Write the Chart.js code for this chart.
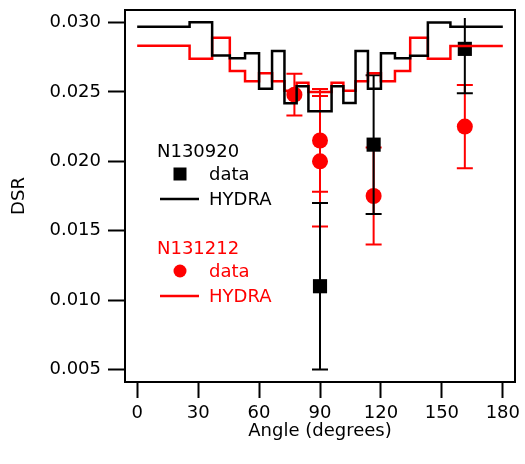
<!DOCTYPE html>
<html><head><meta charset="utf-8">
<script src="https://cdn.jsdelivr.net/npm/chart.js@4.4.1/dist/chart.umd.min.js"></script>
<style>html,body{margin:0;padding:0;background:#fff;}</style>
</head><body>
<canvas id="c" width="525" height="464"></canvas>
<script>
// ---- data ----
const binEdges = [0, 25.8, 36.9, 45.6, 53.1, 60, 66.4, 72.5, 78.5, 84.3, 90, 95.7, 101.5, 107.5, 113.6, 120, 126.9, 134.4, 143.1, 154.2, 180];
const hydraN130920 = [0.02969, 0.03001, 0.02762, 0.02742, 0.02778, 0.02522, 0.02795, 0.02418, 0.02540, 0.02361, 0.02361, 0.02540, 0.02420, 0.02795, 0.02523, 0.02778, 0.02742, 0.02760, 0.03000, 0.02969];
const hydraN131212 = [0.02833, 0.02738, 0.02890, 0.02650, 0.02576, 0.02635, 0.02576, 0.02509, 0.02566, 0.02500, 0.02500, 0.02566, 0.02509, 0.02576, 0.02635, 0.02576, 0.02650, 0.02890, 0.02738, 0.02831];
const dataN130920Angle = [90, 116.4, 161.3];
const dataN130920Value = [0.0110, 0.0212, 0.0281];
const dataN130920Err = [0.0060, 0.0050, 0.0032];
const dataN131212Angle = [77.4, 90, 90, 116.4, 161.3];
const dataN131212Value = [0.0248, 0.0215, 0.0200, 0.0175, 0.0225];
const dataN131212Err = [0.0015, 0.0037, 0.0047, 0.0035, 0.0030];
const xTicks = [0, 30, 60, 90, 120, 150, 180];
const yTicks = [0.005, 0.010, 0.015, 0.020, 0.025, 0.030];

const FONT = 'DejaVu Sans';
const stepPoints = (vals) => binEdges.map((x, i) => ({x, y: vals[Math.min(i, vals.length - 1)]}));
const scatterPoints = (xs, ys) => xs.map((x, i) => ({x, y: ys[i]}));

const errorBarPlugin = {
  id: 'errbars',
  beforeDatasetDraw(chart, args) {
    const ds = chart.data.datasets[args.index];
    if (!ds.errors) return;
    const {ctx, chartArea, scales: {x, y}} = chart;
    ctx.save();
    ctx.beginPath();
    ctx.rect(chartArea.left, chartArea.top + 8, chartArea.right - chartArea.left, chartArea.bottom - chartArea.top - 8);
    ctx.clip();
    ctx.strokeStyle = ds.borderColor;
    ctx.lineWidth = 2;
    ds.data.forEach((p, i) => {
      const e = ds.errors[i];
      const px = x.getPixelForValue(p.x);
      const yt = y.getPixelForValue(p.y + e), yb = y.getPixelForValue(p.y - e);
      ctx.beginPath();
      ctx.moveTo(px, yt); ctx.lineTo(px, yb);
      ctx.moveTo(px - 8, yt); ctx.lineTo(px + 8, yt);
      ctx.moveTo(px - 8, yb); ctx.lineTo(px + 8, yb);
      ctx.stroke();
    });
    ctx.restore();
  }
};

const framePlugin = {
  id: 'frame',
  afterDraw(chart) {
    const {ctx, chartArea: a} = chart;
    ctx.save();
    ctx.strokeStyle = '#000';
    ctx.lineWidth = 2;
    ctx.strokeRect(a.left, a.top, a.right - a.left, a.bottom - a.top);
    ctx.restore();
  }
};

const legendPlugin = {
  id: 'groupLegend',
  afterDraw(chart) {
    const {ctx, chartArea: a} = chart;
    const L = a.left, T = a.top;
    ctx.save();
    ctx.font = '18px "' + FONT + '"';
    ctx.textBaseline = 'alphabetic';
    ctx.textAlign = 'left';
    const groups = [
      {name: 'N130920', color: '#000', marker: 'rect', top: 0},
      {name: 'N131212', color: '#ff0000', marker: 'circle', top: 97}
    ];
    groups.forEach(g => {
      ctx.fillStyle = g.color; ctx.strokeStyle = g.color;
      ctx.fillText(g.name, L + 32, T + 147 + g.top);
      const mx = L + 55, my = T + 164 + g.top;
      ctx.beginPath();
      if (g.marker === 'rect') ctx.rect(mx - 6.5, my - 6.5, 13, 13);
      else ctx.arc(mx, my, 6.5, 0, Math.PI * 2);
      ctx.fill();
      ctx.fillText('data', L + 84, T + 170 + g.top);
      ctx.lineWidth = 2.5;
      ctx.beginPath();
      ctx.moveTo(L + 35, T + 189 + g.top); ctx.lineTo(L + 74, T + 189 + g.top);
      ctx.stroke();
      ctx.fillText('HYDRA', L + 84, T + 195 + g.top);
    });
    ctx.restore();
  }
};

new Chart(document.getElementById('c'), {
  type: 'line',
  data: {
    datasets: [
      {label: 'N130920 HYDRA', data: stepPoints(hydraN130920), stepped: 'before', borderColor: '#000', borderWidth: 2.5, pointRadius: 0, fill: false},
      {label: 'N131212 HYDRA', data: stepPoints(hydraN131212), stepped: 'before', borderColor: '#ff0000', borderWidth: 2.5, pointRadius: 0, fill: false},
      {label: 'N130920 data', data: scatterPoints(dataN130920Angle, dataN130920Value), errors: dataN130920Err, showLine: false, pointStyle: 'rect', pointRadius: 10, pointBorderWidth: 0, backgroundColor: '#000', borderColor: '#000'},
      {label: 'N131212 data', data: scatterPoints(dataN131212Angle, dataN131212Value), errors: dataN131212Err, showLine: false, pointStyle: 'circle', pointRadius: 8, pointBorderWidth: 0, backgroundColor: '#ff0000', borderColor: '#ff0000'}
    ]
  },
  options: {
    responsive: false,
    animation: false,
    devicePixelRatio: 1,
    layout: {padding: {left: 0, right: 6, top: 8, bottom: 0}},
    plugins: {legend: {display: false}, tooltip: {enabled: false}},
    scales: {
      x: {
        type: 'linear', min: -6, max: 186,
        afterBuildTicks: s => { s.ticks = xTicks.map(v => ({value: v})); },
        afterFit: s => { s.height = 82; s.paddingLeft = 0; s.paddingRight = 0; },
        grid: {drawOnChartArea: false, drawTicks: true, tickLength: 16, tickWidth: 2, tickColor: '#000'},
        border: {display: true, color: '#000', width: 2},
        ticks: {color: '#000', font: {family: FONT, size: 18}, padding: 5, maxRotation: 0, autoSkip: false},
        title: {display: true, text: 'Angle (degrees)', color: '#000', font: {family: FONT, size: 18}, padding: {top: 0, bottom: 22}}
      },
      y: {
        type: 'linear', min: 0.0041, max: 0.0309,
        afterBuildTicks: s => { s.ticks = yTicks.map(v => ({value: v})); },
        afterFit: s => { s.width = 125; s.paddingTop = 0; s.paddingBottom = 0; },
        grid: {drawOnChartArea: false, drawTicks: true, tickLength: 17, tickWidth: 2, tickColor: '#000'},
        border: {display: true, color: '#000', width: 2},
        ticks: {color: '#000', font: {family: FONT, size: 18}, padding: 7, callback: v => v.toFixed(3)},
        title: {display: true, text: 'DSR', color: '#000', font: {family: FONT, size: 18}, padding: {top: 9, bottom: 0}}
      }
    }
  },
  plugins: [errorBarPlugin, framePlugin, legendPlugin]
});
</script>
</body></html>
